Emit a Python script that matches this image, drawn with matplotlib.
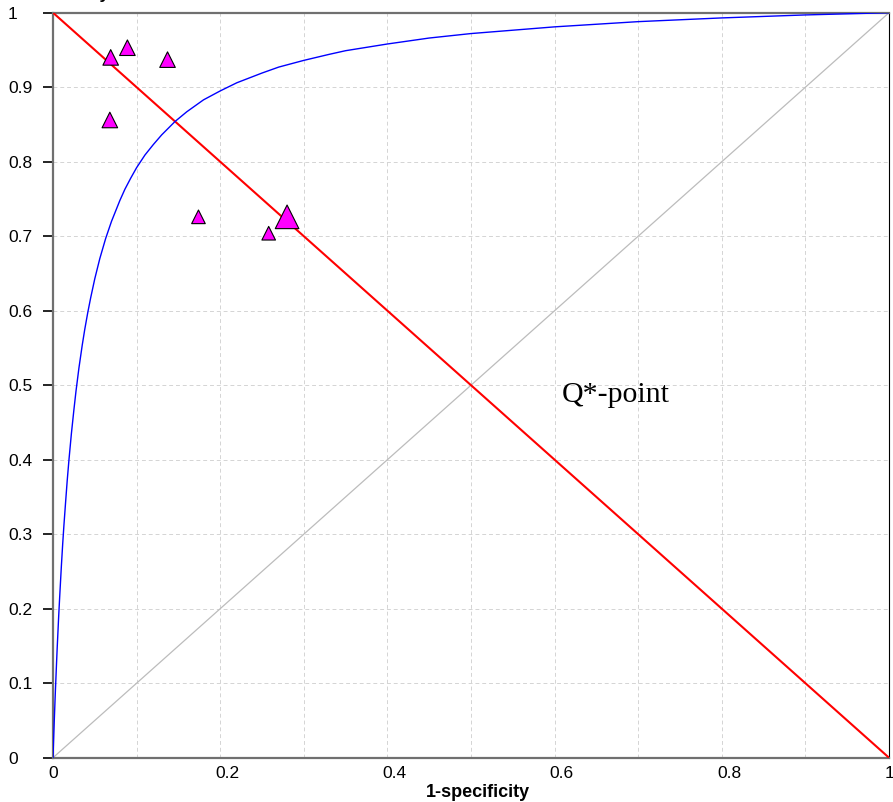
#!/usr/bin/env python3
# SROC plot: study points, fitted curve, Q* line and chance diagonal

import matplotlib
matplotlib.use("Agg")
import matplotlib.pyplot as plt
from matplotlib.transforms import ScaledTranslation

# fitted SROC curve (1-specificity, sensitivity)
curve_fpr = [0.0, 0.001, 0.0015, 0.002, 0.0028, 0.0035, 0.0042, 0.005, 0.006,
             0.0068, 0.008, 0.01, 0.0116, 0.013, 0.015, 0.017, 0.0191, 0.022,
             0.025, 0.0275, 0.031, 0.035, 0.038, 0.0415, 0.045, 0.05, 0.056,
             0.063, 0.07, 0.08, 0.086, 0.093, 0.1, 0.11, 0.12, 0.13, 0.146,
             0.16, 0.17, 0.18, 0.2, 0.22, 0.25, 0.27, 0.3, 0.33, 0.35, 0.4,
             0.45, 0.5, 0.6, 0.7, 0.8, 0.9, 1.0]
curve_tpr = [0.0, 0.033, 0.049, 0.064, 0.088, 0.107, 0.126, 0.147, 0.171,
             0.190, 0.216, 0.257, 0.287, 0.311, 0.342, 0.372, 0.400, 0.435,
             0.467, 0.492, 0.523, 0.554, 0.575, 0.597, 0.617, 0.643, 0.670,
             0.697, 0.720, 0.748, 0.763, 0.778, 0.792, 0.809, 0.823, 0.836,
             0.854, 0.867, 0.875, 0.883, 0.895, 0.906, 0.919, 0.927, 0.936,
             0.944, 0.949, 0.958, 0.966, 0.972, 0.981, 0.988, 0.993, 0.997,
             1.0]

# individual studies
study_fpr = [0.069, 0.089, 0.137, 0.068, 0.174, 0.258, 0.280]
study_tpr = [0.940, 0.953, 0.937, 0.856, 0.726, 0.704, 0.726]
study_size = [11.2, 11.2, 11.2, 11.2, 9.8, 9.8, 17.0]

x_ticks = [0.0, 0.1, 0.2, 0.3, 0.4, 0.5, 0.6, 0.7, 0.8, 0.9, 1.0]
x_labels = ["0", "", "0.2", "", "0.4", "", "0.6", "", "0.8", "", "1"]
y_ticks = [0.0, 0.1, 0.2, 0.3, 0.4, 0.5, 0.6, 0.7, 0.8, 0.9, 1.0]
y_labels = ["0", "0.1", "0.2", "0.3", "0.4", "0.5", "0.6", "0.7", "0.8", "0.9", "1"]

plt.rcParams['font.family'] = ['Liberation Sans', 'DejaVu Sans']

fig = plt.figure(figsize=(8.93, 8.02), dpi=100)
ax = fig.add_axes([53 / 893, 44.3 / 802, 836 / 893, 745 / 802])

# chance line and Q* line
ax.plot([0, 1], [0, 1], color='#bcbcbc', lw=0.9, zorder=2)
ax.plot([0, 1], [1, 0], color='#ff0000', lw=1.5, zorder=3)

# SROC curve
ax.plot(curve_fpr, curve_tpr, color='#0000ff', lw=1.0, zorder=4)

# study points
ax.scatter(study_fpr, study_tpr, s=[m ** 2 for m in study_size], marker='^',
           facecolor='#ff00ff', edgecolor='black', linewidths=0.8, zorder=5)

ax.text(0.608, 0.478, "Q*-point", family=['Liberation Serif', 'DejaVu Serif'],
        fontsize=21.5, ha='left', va='baseline')

ax.set_xlim(0, 1)
ax.set_ylim(0, 1)
ax.set_xticks(x_ticks, x_labels)
ax.set_yticks(y_ticks, y_labels)
ax.grid(True, color='#d4d4d4', lw=0.7, ls=(0, (4, 3)))
ax.set_axisbelow(True)

ax.tick_params(axis='x', length=0, pad=6, labelsize=12.5)
ax.tick_params(axis='y', length=7, width=1.2, pad=25.4, labelsize=12.5)
for lab in ax.get_yticklabels():
    lab.set_horizontalalignment('left')
shift = ScaledTranslation(-3.5 / 72, 0, fig.dpi_scale_trans)
for lab in ax.get_xticklabels():
    lab.set_horizontalalignment('left')
    lab.set_transform(lab.get_transform() + shift)

for side in ['top', 'left', 'bottom']:
    ax.spines[side].set_color('#707070')
    ax.spines[side].set_linewidth(1.6)
ax.spines['right'].set_color('black')
ax.spines['right'].set_linewidth(0.8)

ax.set_xlabel("1-specificity", fontsize=13, fontweight='bold', labelpad=1)
ax.xaxis.set_label_coords(0.508, -0.035)
ax.xaxis.label.set_va('top')

# y label sits above the plot and is mostly cut off by the figure edge
fig.text(110 / 893, 1 + 1.5 / 802, "Sensitivity", fontsize=12.5,
         fontweight='bold', ha='right', va='baseline')

fig.savefig("out.png", dpi=100)
plt.close(fig)
